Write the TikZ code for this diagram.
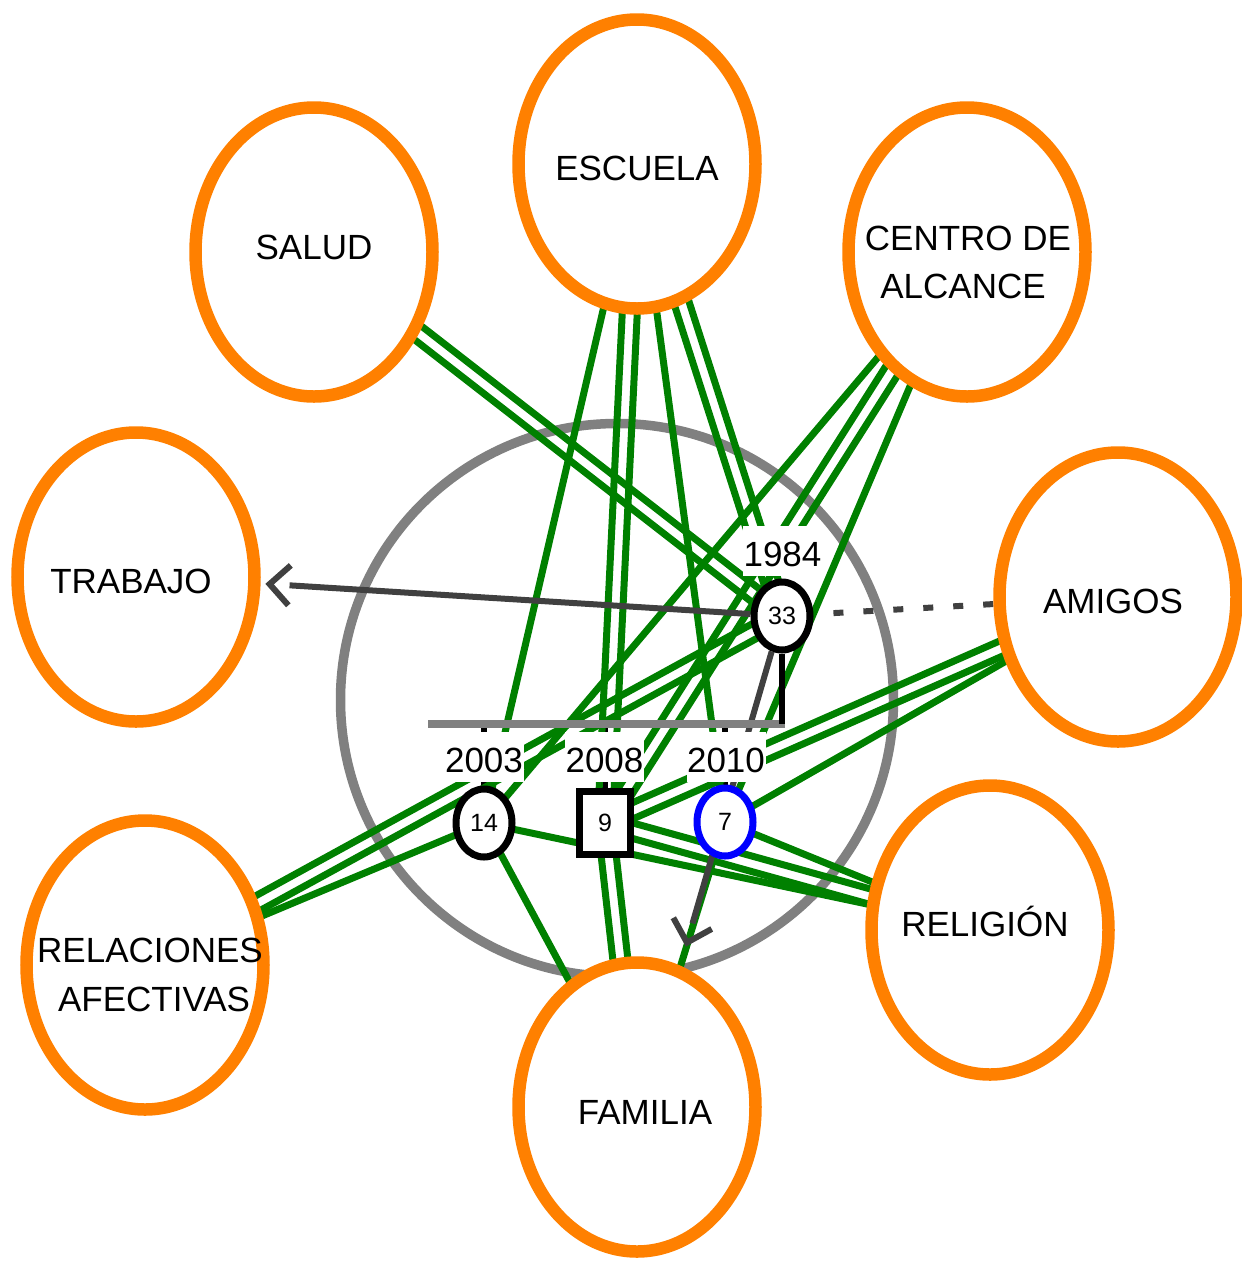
\documentclass[tikz,border=0pt]{standalone}
\usepackage{fontspec}
\setmainfont{Liberation Sans}
\usetikzlibrary{shapes.geometric,calc}
\definecolor{eorange}{HTML}{FF8000}
\definecolor{egreen}{HTML}{008000}
\definecolor{egray}{HTML}{808080}
\definecolor{edark}{HTML}{404040}
\definecolor{eblue}{HTML}{0000FF}
\pgfdeclarelayer{back}
\pgfdeclarelayer{glines}
\pgfdeclarelayer{dlines}
\pgfsetlayers{back,glines,dlines,main}
\newcommand{\gsingle}[2]{\draw[gline] (#1.center) -- (#2.center);}
\newcommand{\gdouble}[2]{%
  \draw[gline] ($(#1.center)!7.5pt!90:(#2.center)$) -- ($(#2.center)!7.5pt!-90:(#1.center)$);
  \draw[gline] ($(#1.center)!7.5pt!-90:(#2.center)$) -- ($(#2.center)!7.5pt!90:(#1.center)$);}
% chevron: #1 tip coordinate, #2 base coordinate
\newcommand{\chevron}[2]{%
  \draw[dline, line join=miter] ($(#2)!20pt!90:(#1)$) -- (#1) -- ($(#2)!20pt!-90:(#1)$);}
\begin{document}
\begin{tikzpicture}[x=1pt,y=-1pt,
  sys/.style={ellipse, draw=eorange, line width=12.5pt, fill=white, minimum width=237pt, minimum height=289pt, inner sep=0pt},
  systext/.style={font=\fontsize{35}{40}\selectfont, inner sep=0pt, anchor=base},
  gline/.style={draw=egreen, line width=7pt},
  person/.style={ellipse, draw=black, line width=7pt, fill=white, minimum width=56pt, minimum height=68pt, inner sep=0pt, font=\fontsize{25}{28}\selectfont},
  maleperson/.style={rectangle, draw=black, line width=7pt, fill=white, minimum width=51pt, minimum height=63pt, inner sep=0pt, font=\fontsize{25}{28}\selectfont},
  yearlabel/.style={fill=white, inner sep=0pt, minimum width=79pt, text height=40pt, text depth=10pt, anchor=base, font=\fontsize{35}{38}\selectfont},
  famline/.style={draw=egray, line width=8pt},
  kidline/.style={draw=black, line width=6pt},
  dline/.style={draw=edark, line width=6pt},
  dotline/.style={draw=edark, line width=6pt, dash pattern=on 10pt off 20pt, dash phase=10pt}
]
\useasboundingbox (0,0) rectangle (1242,1262);

% ring
\begin{pgfonlayer}{back}
\node[circle, draw=egray, line width=9.5pt, minimum size=553pt, inner sep=0pt] (ring) at (617,700) {};
\end{pgfonlayer}

% systems
\node[sys] (SAL) at (314,252) {};
\node[sys] (ESC) at (637,164) {};
\node[sys] (CEN) at (967,252) {};
\node[sys] (TRA) at (136,577) {};
\node[sys] (AMI) at (1118,597) {};
\node[sys] (RA) at (145,965) {};
\node[sys] (FAM) at (637,1107) {};
\node[sys] (REL) at (990,930) {};

\node[systext] (tSAL) at (314,259) {SALUD};
\node[systext] (tESC) at (637,180) {ESCUELA};
\node[systext] (tCEN1) at (968,250) {CENTRO DE};
\node[systext] (tCEN2) at (963,298) {ALCANCE};
\node[systext] (tTRA) at (131,593) {TRABAJO};
\node[systext] (tAMI) at (1113,613) {AMIGOS};
\node[systext] (tRA1) at (150,962) {RELACIONES};
\node[systext] (tRA2) at (154,1011) {AFECTIVAS};
\node[systext] (tFAM) at (645,1124) {FAMILIA};
\node[systext] (tREL) at (985,936) {RELIGIÓN};

% family structure
\coordinate (famL) at (428,724);
\coordinate (famR) at (785,724);

\node[yearlabel] (y1984) at (782.5,566) {1984};
\node[yearlabel] (y2003) at (484,772) {2003};
\node[yearlabel] (y2008) at (604.5,772) {2008};
\node[yearlabel] (y2010) at (726,772) {2010};

\node[person] (p33) at (782,616) {33};
\node[person] (p14) at (484,823) {14};
\node[maleperson] (p9) at (605,823) {9};
\node[person, draw=eblue] (p7) at (725,822) {7};

\begin{pgfonlayer}{back}
\draw[kidline] (p14.north |- famL) -- (p14.north);
\draw[kidline] (p9.north |- famL) -- (p9.north);
\draw[kidline] (p7.north |- famL) -- (p7.north);
\end{pgfonlayer}

\draw[famline] (famL) -- (famR);
\draw[kidline] (p33.south) -- (p33.south |- famL);

% relations (green)
\begin{pgfonlayer}{glines}
\gdouble{SAL}{p33}
\gsingle{ESC}{p14}
\gdouble{ESC}{p9}
\gsingle{ESC}{p7}
\gdouble{ESC}{p33}
\gsingle{CEN}{p14}
\gdouble{CEN}{p9}
\gsingle{CEN}{p7}
\gdouble{AMI}{p9}
\gsingle{AMI}{p7}
\gdouble{RA}{p33}
\gsingle{RA}{p14}
\gsingle{REL}{p7}
\gdouble{REL}{p9}
\gsingle{REL}{p14}
\gsingle{FAM}{p14}
\gdouble{FAM}{p9}
\gsingle{FAM}{p7}
\end{pgfonlayer}

% dark relations
\coordinate (traTip) at ($(TRA.-3.45)!9pt!(p33)$);
\coordinate (traBase) at ($(TRA.-3.45)!29pt!(p33)$);
\coordinate (famTip) at ($(FAM.73.55)!24pt!(p33)$);
\coordinate (famBase) at ($(FAM.73.55)!44pt!(p33)$);
\begin{pgfonlayer}{dlines}
\draw[dline] (p33) -- (traBase);
\chevron{traTip}{traBase}
\draw[dline] (p33) -- (famBase);
\chevron{famTip}{famBase}
\draw[dotline] (p33) -- (AMI);
\end{pgfonlayer}
\end{tikzpicture}
\end{document}
